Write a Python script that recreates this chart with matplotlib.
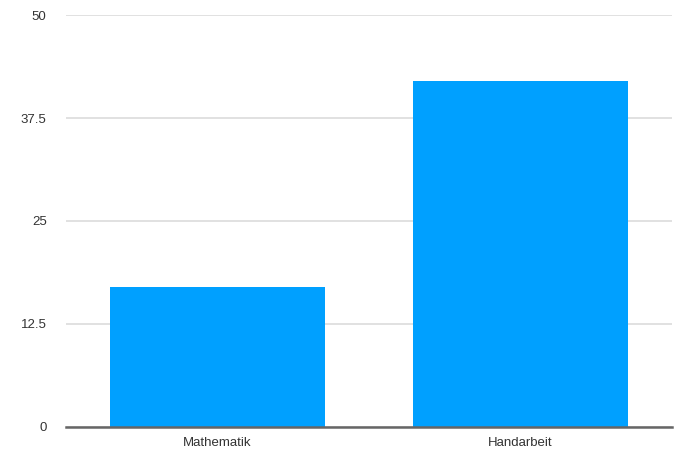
import matplotlib.pyplot as plt

faecher = ['Mathematik', 'Handarbeit']
werte = [17, 42]
y_ticks = [0, 12.5, 25, 37.5, 50]
y_labels = ['0', '12.5', '25', '37.5', '50']

plt.rcParams['font.family'] = ['Liberation Sans', 'DejaVu Sans']

fig = plt.figure(figsize=(6.81, 4.57), dpi=100)
ax = fig.add_axes([0.097, 0.066, 0.89, 0.901])

# Balken
ax.bar(range(len(faecher)), werte, width=0.71, color='#00a0ff', zorder=3)

ax.set_xlim(-0.5, 1.5)
ax.set_ylim(0, 50)
ax.set_xticks(range(len(faecher)))
ax.set_xticklabels(faecher)
ax.set_yticks(y_ticks)
ax.set_yticklabels(y_labels)

# Gitterlinien
ax.grid(axis='y', color='#dcdcdc', linewidth=1.2, zorder=0)
for s in ['top', 'right', 'left']:
    ax.spines[s].set_visible(False)
ax.spines['bottom'].set_color('#666666')
ax.spines['bottom'].set_linewidth(1.8)
ax.spines['bottom'].set_zorder(4)

ax.tick_params(axis='both', length=0, labelsize=9.5, colors='#333333')
ax.tick_params(axis='y', pad=14)
ax.tick_params(axis='x', pad=7)

fig.savefig('out.png', dpi=100)
